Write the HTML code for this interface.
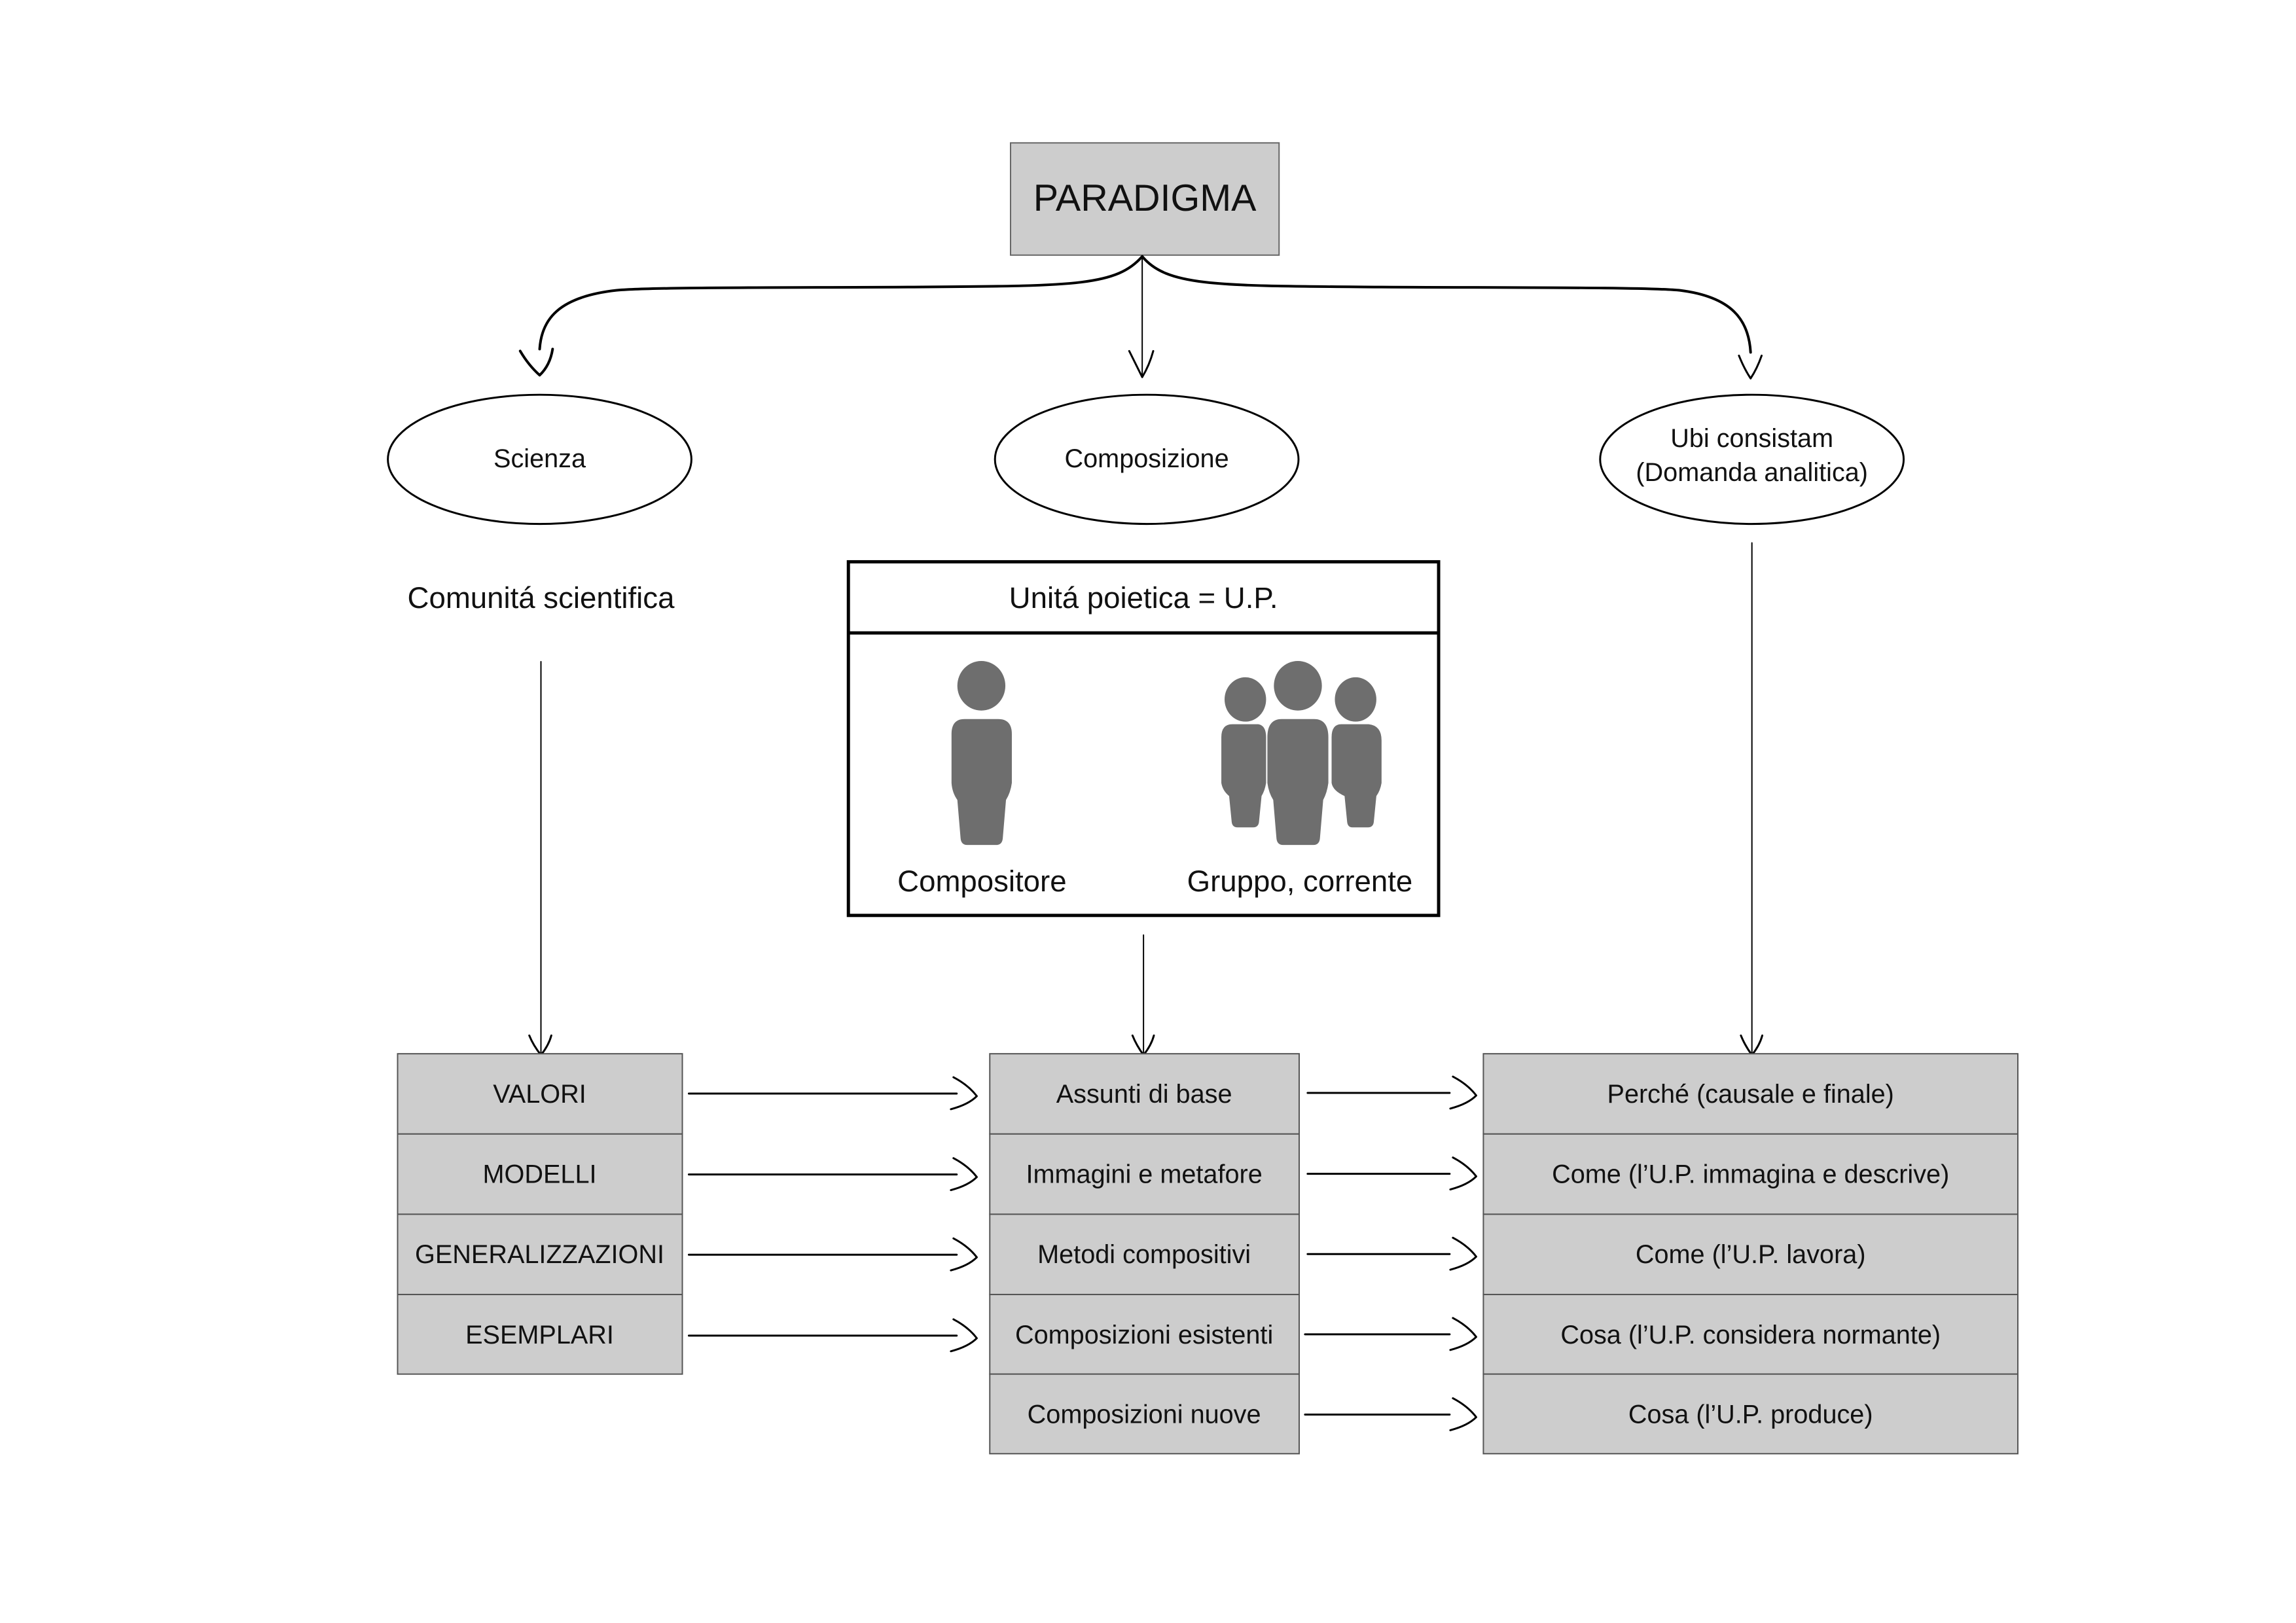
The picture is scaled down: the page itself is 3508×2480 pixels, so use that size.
<!DOCTYPE html>
<html><head><meta charset="utf-8"><style>
html,body{margin:0;padding:0;background:#fff}
svg{display:block}
text{font-family:"Liberation Sans",sans-serif;fill:#111}
</style></head><body>
<svg width="3508" height="2480" viewBox="0 0 3508 2480" xmlns="http://www.w3.org/2000/svg">
<rect width="3508" height="2480" fill="#fff"/>
<g transform="scale(0.991 0.997)">
<rect x="1558" y="219" width="414" height="172" fill="#cdcdcd" stroke="#666" stroke-width="2"/>
<text x="1765" y="323" font-size="58" text-anchor="middle">PARADIGMA</text>

<g fill="none" stroke="#000" stroke-linecap="round" stroke-linejoin="round">
<path d="M1761 393 C1720 440 1650 438 1400 440 C1200 441 1000 440 950 445 C860 455 835 490 832 535" stroke-width="4"/>
<path d="M1761 393 C1800 440 1880 438 2130 440 C2330 441 2540 440 2590 445 C2670 455 2696 490 2699 540" stroke-width="4"/>
<path d="M1761 393 L1761 575" stroke-width="2"/>
<path d="M802 538 Q815 560 832 575 Q848 560 852 535" stroke-width="4"/>
<path d="M1741 538 Q1752 560 1761 578 Q1772 560 1778 538" stroke-width="3"/>
<path d="M2681 545 Q2689 565 2699 580 Q2709 565 2716 545" stroke-width="3"/>
</g>

<g fill="#fff" stroke="#000" stroke-width="3">
<ellipse cx="832" cy="704" rx="234" ry="99"/>
<ellipse cx="1768" cy="704" rx="234" ry="99"/>
<ellipse cx="2701" cy="704" rx="234" ry="99"/>
</g>
<text x="832" y="716" font-size="40" text-anchor="middle">Scienza</text>
<text x="1768" y="716" font-size="40" text-anchor="middle">Composizione</text>
<text x="2701" y="685" font-size="40" text-anchor="middle">Ubi consistam</text>
<text x="2701" y="737" font-size="40" text-anchor="middle">(Domanda analitica)</text>

<text x="834" y="932" font-size="46" text-anchor="middle">Comunitá scientifica</text>

<rect x="1308" y="861" width="910" height="542" fill="#fff" stroke="#000" stroke-width="5"/>
<line x1="1308" y1="970" x2="2218" y2="970" stroke="#000" stroke-width="5"/>
<text x="1763" y="932" font-size="46" text-anchor="middle">Unitá poietica = U.P.</text>
<text x="1514" y="1366" font-size="46" text-anchor="middle">Compositore</text>
<text x="2004" y="1366" font-size="46" text-anchor="middle">Gruppo, corrente</text>

<g fill="#6e6e6e">
<ellipse cx="1513" cy="1051" rx="37" ry="38"/>
<path d="M1487 1102 H1539 Q1560 1102 1560 1125 V1200 Q1558 1215 1551 1226 L1546 1285 Q1545 1295 1536 1295 H1491 Q1482 1295 1481 1285 L1476 1226 Q1468 1215 1467 1200 V1125 Q1467 1102 1487 1102Z"/>
<ellipse cx="1920" cy="1072" rx="32" ry="34"/>
<path d="M1900 1110 H1940 Q1952 1112 1952 1130 V1200 Q1950 1212 1945 1220 L1941 1260 Q1940 1268 1932 1268 H1908 Q1900 1268 1899 1260 L1895 1220 Q1885 1212 1883 1200 V1130 Q1883 1110 1900 1110Z"/>
<ellipse cx="2090" cy="1072" rx="32" ry="34"/>
<path d="M2068 1110 H2110 Q2130 1112 2130 1135 V1200 Q2128 1212 2122 1220 L2118 1260 Q2117 1268 2109 1268 H2085 Q2078 1268 2077 1260 L2073 1220 Q2055 1212 2053 1200 V1130 Q2053 1110 2068 1110Z"/>
<ellipse cx="2001" cy="1051" rx="37" ry="38"/>
<path d="M1976 1102 H2026 Q2048 1102 2048 1130 V1200 Q2046 1215 2040 1226 L2035 1285 Q2034 1295 2025 1295 H1978 Q1969 1295 1968 1285 L1963 1226 Q1956 1215 1954 1200 V1130 Q1954 1102 1976 1102Z"/>
</g>

<g fill="none" stroke="#000" stroke-linecap="round" stroke-linejoin="round">
<line x1="834" y1="1014" x2="834" y2="1614" stroke-width="2"/>
<path d="M816 1587 Q822 1602 834 1617 Q846 1602 850 1587" stroke-width="3"/>
<line x1="1763" y1="1433" x2="1763" y2="1614" stroke-width="2"/>
<path d="M1746 1587 Q1752 1602 1763 1617 Q1775 1602 1779 1587" stroke-width="3"/>
<line x1="2701" y1="832" x2="2701" y2="1614" stroke-width="2"/>
<path d="M2684 1587 Q2690 1602 2701 1617 Q2713 1602 2717 1587" stroke-width="3"/>
</g>

<g fill="#cdcdcd" stroke="#555" stroke-width="2">
<rect x="613" y="1615" width="439" height="123"/>
<rect x="613" y="1738" width="439" height="123"/>
<rect x="613" y="1861" width="439" height="123"/>
<rect x="613" y="1984" width="439" height="122"/>
<rect x="1526" y="1615" width="477" height="123"/>
<rect x="1526" y="1738" width="477" height="123"/>
<rect x="1526" y="1861" width="477" height="123"/>
<rect x="1526" y="1984" width="477" height="122"/>
<rect x="1526" y="2106" width="477" height="122"/>
<rect x="2287" y="1615" width="824" height="123"/>
<rect x="2287" y="1738" width="824" height="123"/>
<rect x="2287" y="1861" width="824" height="123"/>
<rect x="2287" y="1984" width="824" height="122"/>
<rect x="2287" y="2106" width="824" height="122"/>
</g>
<g font-size="40" text-anchor="middle">
<text x="832" y="1690">VALORI</text>
<text x="832" y="1813">MODELLI</text>
<text x="832" y="1936">GENERALIZZAZIONI</text>
<text x="832" y="2059">ESEMPLARI</text>
<text x="1764" y="1690">Assunti di base</text>
<text x="1764" y="1813">Immagini e metafore</text>
<text x="1764" y="1936">Metodi compositivi</text>
<text x="1764" y="2059">Composizioni esistenti</text>
<text x="1764" y="2181">Composizioni nuove</text>
<text x="2699" y="1690">Perché (causale e finale)</text>
<text x="2699" y="1813">Come (l’U.P. immagina e descrive)</text>
<text x="2699" y="1936">Come (l’U.P. lavora)</text>
<text x="2699" y="2059">Cosa (l’U.P. considera normante)</text>
<text x="2699" y="2181">Cosa (l’U.P. produce)</text>
</g>

<g fill="none" stroke="#000" stroke-width="3" stroke-linecap="round" stroke-linejoin="round">
<line x1="1062" y1="1676" x2="1475" y2="1676"/><path d="M1470 1651 Q1493 1663 1506 1680 Q1493 1693 1466 1700"/>
<line x1="1062" y1="1800" x2="1475" y2="1800"/><path d="M1470 1775 Q1493 1787 1506 1804 Q1493 1817 1466 1824"/>
<line x1="1062" y1="1923" x2="1475" y2="1923"/><path d="M1470 1898 Q1493 1910 1506 1927 Q1493 1940 1466 1947"/>
<line x1="1062" y1="2047" x2="1475" y2="2047"/><path d="M1470 2022 Q1493 2034 1506 2051 Q1493 2064 1466 2071"/>
<line x1="2016" y1="1675" x2="2235" y2="1675"/><path d="M2240 1650 Q2263 1662 2276 1679 Q2263 1692 2236 1699"/>
<line x1="2016" y1="1799" x2="2235" y2="1799"/><path d="M2240 1774 Q2263 1786 2276 1803 Q2263 1816 2236 1823"/>
<line x1="2016" y1="1922" x2="2235" y2="1922"/><path d="M2240 1897 Q2263 1909 2276 1926 Q2263 1939 2236 1946"/>
<line x1="2012" y1="2045" x2="2235" y2="2045"/><path d="M2240 2020 Q2263 2032 2276 2049 Q2263 2062 2236 2069"/>
<line x1="2012" y1="2168" x2="2235" y2="2168"/><path d="M2240 2143 Q2263 2155 2276 2172 Q2263 2185 2236 2192"/>
</g>
</g>
</svg>
</body></html>
